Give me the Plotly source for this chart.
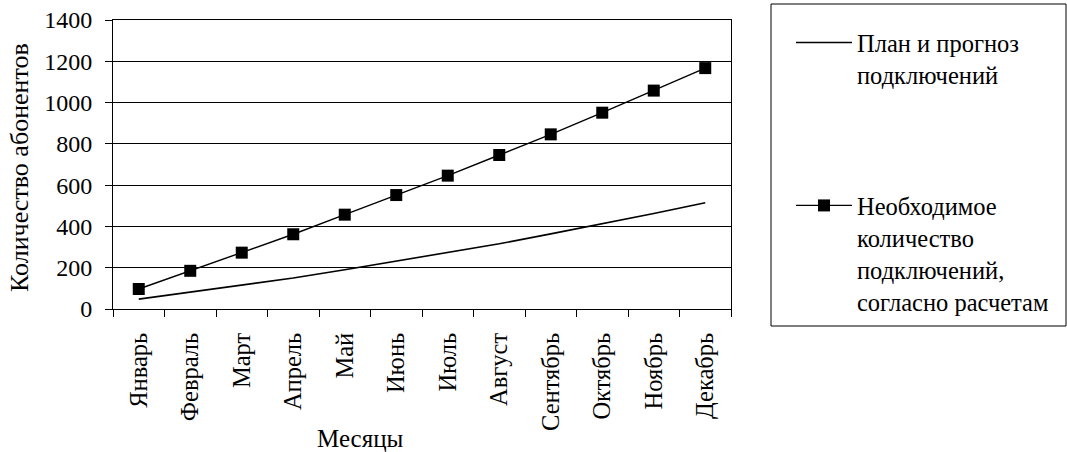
import plotly.graph_objects as go

months = ["Январь", "Февраль", "Март", "Апрель", "Май", "Июнь", "Июль",
          "Август", "Сентябрь", "Октябрь", "Ноябрь", "Декабрь"]
plan = [48, 82, 115, 150, 190, 231, 272, 316, 364, 413, 463, 515]
required = [97, 185, 273, 362, 457, 552, 646, 746, 846, 951, 1058, 1167]
y_ticks = [0, 200, 400, 600, 800, 1000, 1200, 1400]

FONT = "Liberation Serif"
W, H = 1067, 452
L, R, T, B = 113, 731, 20, 309


def px_x(p):
    return (p - L) / (R - L)


def px_y(p):
    return (B - p) / (B - T)


fig = go.Figure()
fig.add_trace(go.Scatter(
    x=months, y=plan, mode="lines", name="План и прогноз<br>подключений",
    line=dict(color="black", width=1.6), legend="legend"))
fig.add_trace(go.Scatter(
    x=months, y=required, mode="lines+markers",
    name="Необходимое<br>количество<br>подключений,<br>согласно расчетам",
    line=dict(color="black", width=1.4),
    marker=dict(symbol="square", size=12, color="black"), legend="legend2"))

leg_font = dict(family=FONT, size=24.5, color="black")
fig.update_layout(
    width=W, height=H,
    margin=dict(l=L, r=W - R, t=T, b=H - B, autoexpand=False),
    paper_bgcolor="white", plot_bgcolor="white",
    font=dict(family=FONT, color="black", size=24),
    showlegend=True,
    legend=dict(x=px_x(791), y=px_y(20), xanchor="left", yanchor="top",
                valign="top", itemwidth=56, bgcolor="rgba(0,0,0,0)",
                font=leg_font),
    legend2=dict(x=px_x(791), y=px_y(183), xanchor="left", yanchor="top",
                 valign="top", itemwidth=56, bgcolor="rgba(0,0,0,0)",
                 font=leg_font),
    xaxis=dict(
        type="category", categoryorder="array", categoryarray=months,
        tickangle=-90, ticks="outside", tickson="boundaries", ticklen=7,
        tickcolor="black", tickwidth=1, showline=True, linecolor="black",
        linewidth=1, mirror=True, showgrid=False, automargin=False,
        ticklabelstandoff=13, ticklabeloverflow="allow",
        tickfont=dict(family=FONT, size=24.5, color="black"),
        range=[-0.5, 11.5]),
    yaxis=dict(
        range=[0, 1400], tickvals=y_ticks, ticktext=[str(v) for v in y_ticks],
        ticks="outside", ticklen=7, tickcolor="black", tickwidth=1,
        showline=True, linecolor="black", linewidth=1, mirror=True,
        showgrid=True, gridcolor="black", gridwidth=1, zeroline=False,
        automargin=False, ticklabelstandoff=8, ticklabeloverflow="allow",
        tickfont=dict(family=FONT, size=24, color="black")),
    annotations=[
        dict(text="Месяцы", xref="paper", yref="paper",
             x=px_x(360), y=px_y(438), xanchor="center", yanchor="middle",
             showarrow=False, font=dict(family=FONT, size=25, color="black")),
        dict(text="Количество абонентов", xref="paper", yref="paper",
             x=px_x(19), y=px_y(168), xanchor="center", yanchor="middle",
             textangle=-90, showarrow=False,
             font=dict(family=FONT, size=26, color="black")),
    ],
    shapes=[dict(type="rect", xref="paper", yref="paper",
                 x0=px_x(771), x1=px_x(1066), y0=px_y(326), y1=px_y(4),
                 line=dict(color="black", width=1))],
)

fig.write_html("out.html",
               config={"displayModeBar": False},
               post_script="document.body.style.margin='0';"
                           "document.body.style.overflow='hidden';")
